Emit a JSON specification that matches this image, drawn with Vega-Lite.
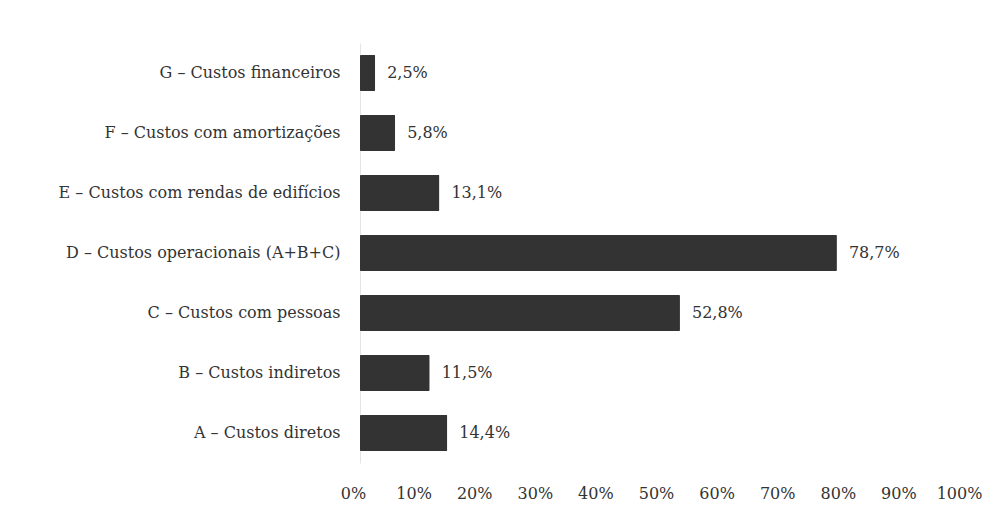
{
  "$schema": "https://vega.github.io/schema/vega-lite/v6.json",
  "autosize": {"type": "none"},
  "width": 606,
  "height": 420,
  "padding": {"left": 360, "top": 43, "right": 39, "bottom": 51},
  "background": "white",
  "config": {
    "view": {"stroke": null},
    "font": "DejaVu Serif",
    "axis": {"labelFont": "DejaVu Serif", "labelColor": "#333333", "labelFontSize": 16}
  },
  "data": {
    "values": [
      {"item": "G – Custos financeiros", "valor": 2.5},
      {"item": "F – Custos com amortizações", "valor": 5.8},
      {"item": "E – Custos com rendas de edifícios", "valor": 13.1},
      {"item": "D – Custos operacionais (A+B+C)", "valor": 78.7},
      {"item": "C – Custos com pessoas", "valor": 52.8},
      {"item": "B – Custos indiretos", "valor": 11.5},
      {"item": "A – Custos diretos", "valor": 14.4}
    ]
  },
  "transform": [
    {"calculate": "replace(format(datum.valor, '.1f'), '.', ',') + '%'", "as": "rotulo"}
  ],
  "encoding": {
    "y": {
      "field": "item", "type": "nominal", "sort": null,
      "scale": {"paddingInner": 0.4, "paddingOuter": 0.2},
      "axis": {"title": null, "ticks": false, "domain": true, "domainColor": "#e4e4e4", "labelPadding": 20, "labelLimit": 400}
    },
    "x": {
      "field": "valor", "type": "quantitative",
      "scale": {"domain": [0, 100], "nice": false},
      "axis": {"title": null, "values": [0,10,20,30,40,50,60,70,80,90,100], "labelExpr": "datum.value + '%'", "grid": false, "ticks": false, "domain": false, "labelPadding": 22, "labelOffset": -7, "labelFlush": false}
    }
  },
  "layer": [
    {"mark": {"type": "bar", "color": "#333333", "cornerRadius": 1}},
    {"mark": {"type": "text", "align": "left", "dx": 12, "fontSize": 16, "color": "#333333"}, "encoding": {"text": {"field": "rotulo"}}}
  ]
}
